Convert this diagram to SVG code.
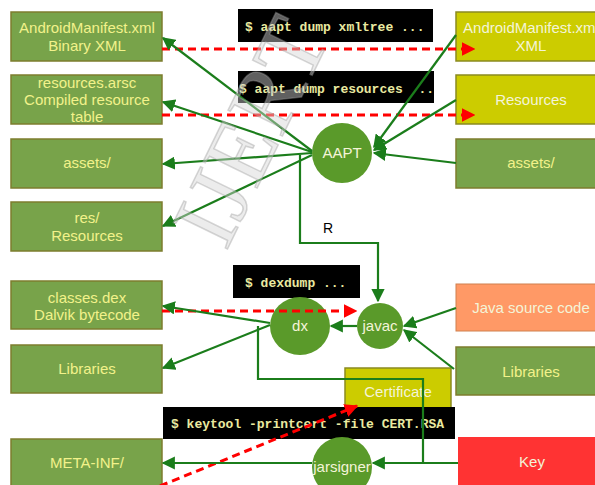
<svg xmlns="http://www.w3.org/2000/svg" width="595" height="485" viewBox="0 0 595 485">
<defs>
<style>
.gbox{fill:#78a34a;stroke:#7d7d2e;stroke-width:1.5}
.ybox{fill:#cccc00;stroke:#8a8a20;stroke-width:1.5}
.circ{fill:#5a9a2a}
.lbl{font-family:"Liberation Sans",Arial,sans-serif;font-size:15px;fill:#f2f28a;text-anchor:middle}
.wlbl{font-family:"Liberation Sans",Arial,sans-serif;font-size:15px;fill:#f4f4d8;text-anchor:middle}
.cmdbox{fill:#000}
.cmd{font-family:"Liberation Mono","Courier New",monospace;font-size:13px;font-weight:bold;fill:#eaeaa0}
.conn{fill:none;stroke:#1b7d1b;stroke-width:2.2}
.red{fill:none;stroke:#ff0000;stroke-width:3;stroke-dasharray:8 5}
</style>
<marker id="ga" viewBox="0 0 10 10" refX="9" refY="5" markerWidth="6" markerHeight="6" orient="auto" markerUnits="strokeWidth">
<path d="M0,0 L10,5 L0,10 z" fill="#1b7d1b"/>
</marker>
<marker id="ra" viewBox="0 0 10 10" refX="9" refY="5" markerWidth="4.5" markerHeight="4.5" orient="auto" markerUnits="strokeWidth">
<path d="M0,0 L10,5 L0,10 z" fill="#ff0000"/>
</marker>
</defs>
<rect width="595" height="485" fill="#fff"/>

<g id="n-manifest-bin"><rect class="gbox" x="11" y="12" width="151" height="49"/><text class="lbl" x="87" y="33">AndroidManifest.xml</text><text class="lbl" x="87" y="51">Binary XML</text></g>
<g id="n-arsc"><rect class="gbox" x="11" y="75" width="151" height="49"/><text class="lbl" x="87" y="88">resources.arsc</text><text class="lbl" x="87" y="105">Compiled resource</text><text class="lbl" x="87" y="122">table</text></g>
<g id="n-assets-l"><rect class="gbox" x="11" y="139" width="151" height="49"/><text class="lbl" x="87" y="168">assets/</text></g>
<g id="n-res"><rect class="gbox" x="11" y="202" width="151" height="49"/><text class="lbl" x="87" y="223">res/</text><text class="lbl" x="87" y="241">Resources</text></g>
<g id="n-classes"><rect class="gbox" x="11" y="281" width="151" height="48"/><text class="lbl" x="87" y="303">classes.dex</text><text class="lbl" x="87" y="320">Dalvik bytecode</text></g>
<g id="n-libs-l"><rect class="gbox" x="11" y="345" width="151" height="48"/><text class="lbl" x="87" y="374">Libraries</text></g>
<g id="n-metainf"><rect class="gbox" x="11" y="439" width="151" height="50"/><text class="lbl" x="87" y="468">META-INF/</text></g>

<g id="n-manifest-xml"><rect class="ybox" x="456" y="12" width="150" height="49"/><text class="wlbl" x="531" y="33">AndroidManifest.xml</text><text class="wlbl" x="531" y="51">XML</text></g>
<g id="n-resources-r"><rect class="ybox" x="456" y="75" width="150" height="49"/><text class="wlbl" x="531" y="105">Resources</text></g>
<g id="n-assets-r"><rect class="gbox" x="456" y="139" width="150" height="49"/><text class="lbl" x="531" y="168">assets/</text></g>
<g id="n-java"><rect x="456" y="284" width="150" height="47" fill="#ff9966" stroke="#d0804f" stroke-width="1"/><text class="wlbl" x="531" y="313">Java source code</text></g>
<g id="n-libs-r"><rect class="gbox" x="456" y="347" width="150" height="48"/><text class="lbl" x="531" y="377">Libraries</text></g>
<g id="n-key"><rect x="458" y="437" width="150" height="52" fill="#ff3333"/><text class="wlbl" x="532" y="467">Key</text></g>
<g id="n-cert"><rect class="ybox" x="345" y="368" width="106" height="48"/><text class="wlbl" x="398" y="397">Certificate</text></g>

<g id="cmd-xmltree"><rect class="cmdbox" x="238" y="9" width="195" height="33"/><text class="cmd" x="245" y="31">$ aapt dump xmltree ...</text></g>
<g id="cmd-resources"><rect class="cmdbox" x="238" y="71" width="196" height="32"/><text class="cmd" x="239" y="93" xml:space="preserve">$ aapt dump resources  ..</text></g>
<g id="cmd-dexdump"><rect class="cmdbox" x="233" y="265" width="127" height="33"/><text class="cmd" x="245" y="287">$ dexdump ...</text></g>
<g id="cmd-keytool"><rect class="cmdbox" x="163" y="407" width="292" height="32"/><text class="cmd" x="171" y="428">$ keytool -printcert -file CERT.RSA</text></g>

<g id="n-aapt"><circle class="circ" cx="342" cy="153" r="30"/><text class="wlbl" x="342" y="158">AAPT</text></g>
<g id="n-dx"><ellipse class="circ" cx="300" cy="326" rx="30" ry="29"/><text class="wlbl" x="300" y="331">dx</text></g>
<g id="n-javac"><circle class="circ" cx="380" cy="326" r="23"/><text class="wlbl" x="380" y="331">javac</text></g>
<g id="n-jarsigner"><circle class="circ" cx="342" cy="467" r="30"/><text class="wlbl" x="342" y="472">jarsigner</text></g>

<g id="connectors">
<line class="red" x1="162" y1="49" x2="474" y2="49" marker-end="url(#ra)"/>
<line class="red" x1="162" y1="115" x2="474" y2="115" marker-end="url(#ra)"/>
<line class="red" x1="162" y1="311" x2="356" y2="311" marker-end="url(#ra)"/>
<line class="red" x1="160" y1="486" x2="357" y2="406" marker-end="url(#ra)"/>

<line class="conn" x1="312" y1="151" x2="163" y2="38" marker-end="url(#ga)"/>
<line class="conn" x1="312" y1="152" x2="163" y2="102" marker-end="url(#ga)"/>
<line class="conn" x1="312" y1="153" x2="163" y2="164" marker-end="url(#ga)"/>
<line class="conn" x1="312" y1="155" x2="163" y2="226" marker-end="url(#ga)"/>

<line class="conn" x1="456" y1="35" x2="374" y2="147" marker-end="url(#ga)"/>
<line class="conn" x1="456" y1="100" x2="374" y2="150" marker-end="url(#ga)"/>
<line class="conn" x1="456" y1="163" x2="374" y2="153" marker-end="url(#ga)"/>

<polyline class="conn" points="300,155 300,243 378,243 378,301" marker-end="url(#ga)"/>
<text x="328" y="233" style="font-family:'Liberation Sans',Arial,sans-serif;font-size:14px;fill:#000;text-anchor:middle">R</text>

<line class="conn" x1="357" y1="326" x2="331" y2="326" marker-end="url(#ga)"/>
<line class="conn" x1="456" y1="308" x2="404" y2="326" marker-end="url(#ga)"/>
<line class="conn" x1="454" y1="369" x2="404" y2="330" marker-end="url(#ga)"/>

<line class="conn" x1="270" y1="323" x2="163" y2="306" marker-end="url(#ga)"/>
<line class="conn" x1="270" y1="325" x2="163" y2="368" marker-end="url(#ga)"/>

<polyline class="conn" points="258,326 258,379 423,379 423,463 373,463" marker-end="url(#ga)"/>
<line class="conn" x1="458" y1="463" x2="423" y2="463"/>
<line class="conn" x1="312" y1="463" x2="163" y2="463" marker-end="url(#ga)"/>
</g>

<text transform="translate(226,252) rotate(-64)" style="font-family:'Liberation Serif','Times New Roman',serif;font-size:92px;fill:#d4d4d4;fill-opacity:0.45;stroke:#9a9a9a;stroke-opacity:0.4;stroke-width:1.5;letter-spacing:1px">IJERT</text>
</svg>
